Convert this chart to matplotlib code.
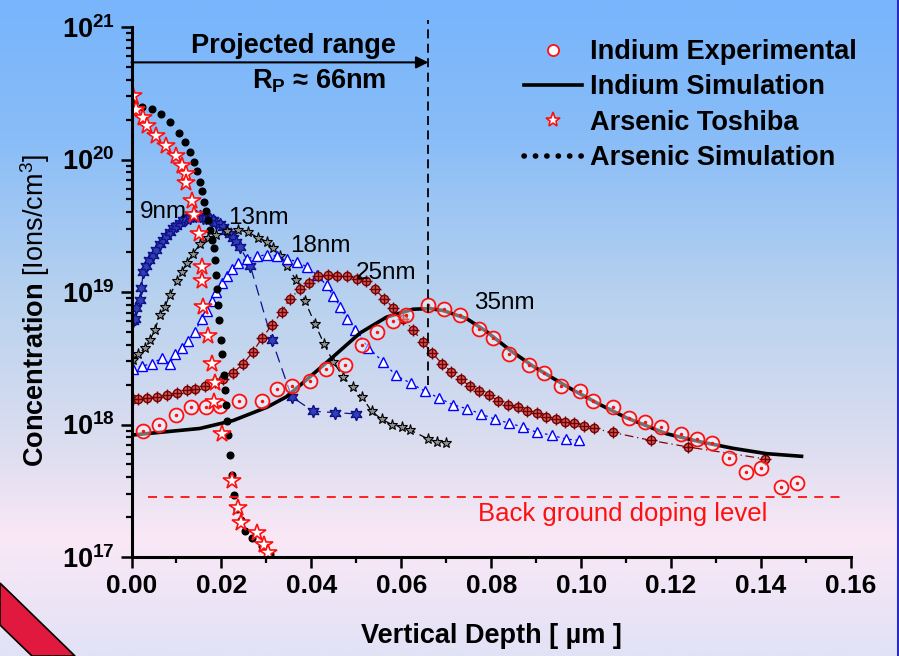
import numpy as np
import matplotlib
matplotlib.use("Agg")
import matplotlib.pyplot as plt
from matplotlib.lines import Line2D
from matplotlib.patches import Polygon

plt.rcParams['font.family'] = ['Liberation Sans', 'DejaVu Sans']
plt.rcParams['mathtext.fontset'] = 'custom'
plt.rcParams['mathtext.rm'] = 'Liberation Sans'
plt.rcParams['mathtext.bf'] = 'Liberation Sans:bold'
plt.rcParams['mathtext.it'] = 'Liberation Sans:italic'

# ---- data: depth in um, concentration as log10(cm^-3) ----
as_sim_x = [0.0006, 0.0023, 0.0046, 0.0066, 0.0086, 0.0106, 0.0119, 0.0130, 0.0139, 0.0146,
            0.0152, 0.0157, 0.0161, 0.0166, 0.0170, 0.0174, 0.0179, 0.0183, 0.0186, 0.0188,
            0.0190, 0.0192, 0.0195, 0.0199, 0.0201, 0.0206, 0.0208, 0.0210, 0.0212, 0.0215,
            0.0219, 0.0223, 0.0228, 0.0235, 0.0244, 0.0252, 0.0268, 0.0290, 0.0308]
as_sim_y = [20.43, 20.40, 20.38, 20.34, 20.28, 20.20, 20.13, 20.06, 19.98, 19.91,
            19.83, 19.76, 19.68, 19.61, 19.54, 19.47, 19.39, 19.33, 19.24, 19.13,
            19.02, 18.90, 18.79, 18.64, 18.53, 18.37, 18.26, 18.15, 18.03, 17.92,
            17.77, 17.62, 17.47, 17.36, 17.28, 17.20, 17.14, 17.08, 17.02]

as_tosh_x = [0.0004, 0.0010, 0.0025, 0.0034, 0.0054, 0.0076, 0.0098, 0.0112, 0.0121, 0.0121,
             0.0134, 0.0139, 0.0149, 0.0156, 0.0156, 0.0160, 0.0171, 0.0178, 0.0186, 0.0184,
             0.0201, 0.0223, 0.0237, 0.0244, 0.0280, 0.0294, 0.0303]
as_tosh_y = [20.48, 20.37, 20.31, 20.25, 20.18, 20.10, 20.03, 19.95, 19.89, 19.82,
             19.69, 19.58, 19.44, 19.19, 19.08, 18.89, 18.67, 18.46, 18.31, 18.17,
             17.93, 17.57, 17.37, 17.26, 17.18, 17.09, 17.03]

in_sim_x = [0.0, 0.0152, 0.0226, 0.0301, 0.0345, 0.0390, 0.0448, 0.0508, 0.0567, 0.0626,
            0.0664, 0.0693, 0.0745, 0.0790, 0.0842, 0.0893, 0.0937, 0.0982, 0.1042, 0.1101,
            0.1190, 0.1264, 0.1338, 0.1412, 0.1490]
in_sim_y = [17.92, 17.97, 18.03, 18.13, 18.21, 18.34, 18.51, 18.69, 18.81, 18.87,
            18.875, 18.86, 18.80, 18.70, 18.56, 18.44, 18.35, 18.26, 18.15, 18.05,
            17.93, 17.87, 17.82, 17.78, 17.76]

in_exp_x = [0.0025, 0.0062, 0.0099, 0.0132, 0.0166, 0.0197, 0.0240, 0.0290, 0.0323, 0.0358,
            0.0397, 0.0433, 0.0475, 0.0512, 0.0545, 0.0581, 0.0610, 0.0660, 0.0696, 0.0730,
            0.0773, 0.0803, 0.0839, 0.0884, 0.0918, 0.0955, 0.0998, 0.1026, 0.1070, 0.1106,
            0.1143, 0.1178, 0.1222, 0.1257, 0.1292, 0.1329, 0.1366, 0.1400, 0.1444, 0.1481]
in_exp_y = [17.95, 18.00, 18.07, 18.13, 18.13, 18.14, 18.18, 18.18, 18.27, 18.29,
            18.33, 18.42, 18.45, 18.60, 18.70, 18.78, 18.83, 18.90, 18.87, 18.83,
            18.72, 18.65, 18.53, 18.45, 18.39, 18.29, 18.25, 18.18, 18.13, 18.05,
            18.02, 17.98, 17.93, 17.89, 17.86, 17.75, 17.64, 17.67, 17.53, 17.56]

nm9_x = [0.0003, 0.0007, 0.0011, 0.0018, 0.0022, 0.0026, 0.0033, 0.0040, 0.0048, 0.0055,
         0.0063, 0.0070, 0.0077, 0.0085, 0.0092, 0.0100, 0.0107, 0.0115, 0.0122, 0.0129,
         0.0137, 0.0144, 0.0152, 0.0159, 0.0166, 0.0174, 0.0181, 0.0189, 0.0196, 0.0204,
         0.0211, 0.0218, 0.0226, 0.0233, 0.0241, 0.0264, 0.0312, 0.0356, 0.0404, 0.0453,
         0.0499]
nm9_y = [18.78, 18.80, 18.88, 18.94, 19.03, 19.15, 19.20, 19.24, 19.28, 19.32,
         19.36, 19.39, 19.42, 19.45, 19.48, 19.50, 19.52, 19.54, 19.55, 19.56,
         19.57, 19.57, 19.57, 19.56, 19.56, 19.55, 19.54, 19.52, 19.51, 19.49,
         19.46, 19.44, 19.41, 19.38, 19.34, 19.20, 18.64, 18.21, 18.10, 18.09,
         18.08]

nm13_x = [0.0003, 0.0015, 0.0030, 0.0041, 0.0052, 0.0063, 0.0074, 0.0086, 0.0101, 0.0112,
          0.0123, 0.0137, 0.0152, 0.0171, 0.0189, 0.0212, 0.0237, 0.0260, 0.0282, 0.0301,
          0.0315, 0.0330, 0.0345, 0.0366, 0.0386, 0.0408, 0.0428, 0.0449, 0.0471, 0.0492,
          0.0512, 0.0534, 0.0556, 0.0579, 0.0601, 0.0619, 0.0660, 0.0680, 0.0699]
nm13_y = [18.49, 18.53, 18.58, 18.64, 18.71, 18.83, 18.89, 18.98, 19.08, 19.15,
          19.22, 19.29, 19.36, 19.41, 19.43, 19.46, 19.47, 19.45, 19.41, 19.38,
          19.33, 19.27, 19.20, 19.09, 18.93, 18.76, 18.61, 18.47, 18.36, 18.28,
          18.21, 18.10, 18.04, 18.00, 17.98, 17.96, 17.89, 17.87, 17.86]

nm18_x = [0.0003, 0.0023, 0.0045, 0.0067, 0.0086, 0.0097, 0.0112, 0.0126, 0.0141, 0.0156,
          0.0167, 0.0178, 0.0189, 0.0201, 0.0212, 0.0223, 0.0237, 0.0256, 0.0278, 0.0301,
          0.0323, 0.0345, 0.0367, 0.0390, 0.0412, 0.0434, 0.0449, 0.0464, 0.0479, 0.0497,
          0.0527, 0.0560, 0.0588, 0.0622, 0.0653, 0.0684, 0.0714, 0.0745, 0.0777, 0.0808,
          0.0840, 0.0871, 0.0902, 0.0934, 0.0966, 0.0996]
nm18_y = [18.42, 18.44, 18.46, 18.50, 18.46, 18.53, 18.58, 18.63, 18.70, 18.80,
          18.86, 18.93, 19.00, 19.07, 19.12, 19.17, 19.22, 19.25, 19.27, 19.28,
          19.27, 19.25, 19.23, 19.19, 19.13, 19.05, 18.97, 18.89, 18.80, 18.71,
          18.58, 18.47, 18.37, 18.31, 18.25, 18.20, 18.15, 18.12, 18.08, 18.04,
          18.01, 17.98, 17.94, 17.92, 17.89, 17.88]

nm25_x = [0.0003, 0.0015, 0.0034, 0.0056, 0.0078, 0.0101, 0.0123, 0.0141, 0.0163, 0.0186,
          0.0204, 0.0226, 0.0249, 0.0270, 0.0290, 0.0312, 0.0334, 0.0352, 0.0375, 0.0395,
          0.0415, 0.0438, 0.0458, 0.0479, 0.0501, 0.0521, 0.0541, 0.0562, 0.0582, 0.0604,
          0.0627, 0.0648, 0.0669, 0.0690, 0.0711, 0.0732, 0.0753, 0.0773, 0.0795, 0.0816,
          0.0838, 0.0859, 0.0880, 0.0901, 0.0922, 0.0943, 0.0964, 0.0985, 0.1006, 0.1028,
          0.1070, 0.1155, 0.1238, 0.1409]
nm25_y = [18.19, 18.19, 18.20, 18.21, 18.22, 18.24, 18.26, 18.27, 18.29, 18.32,
          18.34, 18.39, 18.46, 18.55, 18.65, 18.75, 18.85, 18.95, 19.02, 19.07,
          19.12, 19.13, 19.12, 19.12, 19.10, 19.08, 19.02, 18.95, 18.88, 18.80,
          18.71, 18.62, 18.54, 18.46, 18.40, 18.34, 18.29, 18.25, 18.22, 18.18,
          18.15, 18.13, 18.10, 18.09, 18.06, 18.04, 18.02, 18.01, 17.99, 17.97,
          17.94, 17.88, 17.83, 17.74]

shift_labels = ['9nm', '13nm', '18nm', '25nm', '35nm']
shift_label_x = [0.0019, 0.0215, 0.0352, 0.0499, 0.0762]
shift_label_y = [19.60, 19.56, 19.35, 19.14, 18.92]

rp_depth = 0.066
background_level = 17.453


def c(v):
    return 10 ** np.asarray(v)


fig = plt.figure(figsize=(8.99, 6.56), dpi=100)

# background gradient + decoration
bg = fig.add_axes([0, 0, 1, 1], zorder=-10)
stops = [0.0, 0.2, 0.46, 0.69, 0.82, 1.0]
cols = np.array([[120, 181, 252], [135, 188, 248], [185, 210, 238],
                 [222, 222, 240], [250, 232, 246], [226, 226, 246]]) / 255.0
t = np.linspace(0, 1, 300)
grad = np.stack([np.interp(t, stops, cols[:, k]) for k in range(3)], axis=1)
bg.imshow(grad[:, None, :], aspect='auto', extent=[0, 1, 0, 1])
bg.add_patch(Polygon([[0, 1 - 583 / 656], [75 / 899, 0], [32 / 899, 0], [0, 1 - 625 / 656]],
                     closed=True, facecolor='#e2193f', edgecolor='black', lw=1.2))
bg.plot([897.5 / 899, 897.5 / 899], [0, 1], color='#2a2ac8', lw=2.2)
bg.set_xlim(0, 1)
bg.set_ylim(0, 1)
bg.axis('off')

ax = fig.add_axes([131.5 / 899, 1 - 557 / 656, (851 - 131.5) / 899, (557 - 27) / 656])
ax.patch.set_alpha(0)

# implant profiles at different shifts
ax.plot(nm9_x, c(nm9_y), color='#10108a', lw=0.9, ls=(0, (9, 5)),
        marker=(6, 1, 0), ms=9, mfc='#3040b0', mec='#10108a', mew=1.0)
ax.plot(nm13_x, c(nm13_y), color='black', lw=0.9, ls=(0, (6, 4)),
        marker='*', ms=8, mfc='#909090', mec='black', mew=0.8)
ax.plot(nm18_x, c(nm18_y), color='#0000ff', lw=0.9, ls=(0, (2, 3)),
        marker='^', ms=7, mfc='white', mec='#0000ff', mew=1.0)
ax.plot(nm25_x, c(nm25_y), color='#8b0000', lw=0.9, ls=(0, (7, 3, 1, 3)),
        marker='o', ms=6, mfc='#c86060', mec='#7a0000', mew=1.0)
ax.plot(nm25_x, c(nm25_y), ls='none', marker='+', ms=9, mec='#7a0000', mew=1.0)

# indium
ax.plot(in_sim_x, c(in_sim_y), color='black', lw=2.6)
ax.plot(in_exp_x, c(in_exp_y), ls='none', marker='o', ms=10,
        mfc=(1, 1, 1, 0.45), mec='#ff1010', mew=1.3)
ax.plot(in_exp_x, c(in_exp_y), ls='none', marker='o', ms=1.5, color='#ff1010')

# arsenic
ax.plot(as_sim_x, c(as_sim_y), ls='none', marker='o', ms=4.8, color='black')
ax.plot(as_tosh_x, c(as_tosh_y), ls='none', marker='*', ms=13,
        mfc='white', mec='#ff1010', mew=1.2)

# projected range marker
ax.plot([rp_depth, rp_depth], [c(18.3), c(21.05)], color='black', lw=1.3,
        ls=(0, (5, 3)), clip_on=False)
ax.annotate('', xy=(rp_depth, c(20.733)), xytext=(0.0, c(20.733)),
            arrowprops=dict(arrowstyle='-|>', color='black', lw=1.5,
                            mutation_scale=18, shrinkA=0, shrinkB=0))
ax.text(0.0361, c(20.86), 'Projected range', fontsize=19.5, fontweight='bold',
        ha='center', va='center')
ax.text(0.0417, c(20.59), r'R$_{\mathbf{P}}$ ≈ 66nm', fontsize=19.5, fontweight='bold',
        ha='center', va='center')

# background doping
ax.plot([0.0037, 0.1583], [c(background_level)] * 2, color='#ff1010', lw=1.3,
        ls=(0, (5, 4)))
ax.text(0.1093, c(17.325), 'Back ground doping level', color='#ff1010', fontsize=18.5,
        ha='center', va='center')

for lab, lx, ly in zip(shift_labels, shift_label_x, shift_label_y):
    ax.text(lx, c(ly), lab, fontsize=17.5, ha='left', va='center')

ax.set_yscale('log')
ax.set_xlim(0, 0.16)
ax.set_ylim(1e17, 1e21)
ax.set_xticks(np.arange(0, 0.161, 0.02))
ax.set_xticklabels(['%.2f' % v for v in np.arange(0, 0.161, 0.02)],
                   fontsize=19, fontweight='bold')
ax.set_xticks(np.arange(0.01, 0.16, 0.02), minor=True)
ax.set_yticks([1e17, 1e18, 1e19, 1e20, 1e21])
ax.set_yticklabels([r'$\mathbf{10^{%d}}$' % k for k in range(17, 22)], fontsize=19.5)
ax.yaxis.set_minor_locator(matplotlib.ticker.LogLocator(base=10, subs=np.arange(2, 10)))
ax.yaxis.set_minor_formatter(matplotlib.ticker.NullFormatter())
ax.tick_params(axis='both', which='major', direction='out', length=8, width=1.8, pad=4)
ax.tick_params(axis='both', which='minor', direction='out', length=4.5, width=1.6)
for s in ['top', 'right']:
    ax.spines[s].set_visible(False)
for s in ['left', 'bottom']:
    ax.spines[s].set_linewidth(2.2)

fig.text(491 / 899, 1 - 636 / 656, 'Vertical Depth [ µm ]', fontsize=19.5,
         fontweight='bold', ha='center', va='center')
fig.text(35 / 899, 1 - 311 / 656, r'$\mathbf{Concentration}$ [Ions/cm$^{3}$]',
         fontsize=19.5, rotation=90, ha='center', va='center')

handles = [
    Line2D([], [], ls='none', marker='o', ms=8, mfc='white', mec='#ff1010', mew=1.3),
    Line2D([], [], color='black', lw=2.6),
    Line2D([], [], ls='none', marker='*', ms=11, mfc='white', mec='#ff1010', mew=1.2),
    Line2D([], [], color='black', lw=4, ls=(0, (0.05, 2.0)), dash_capstyle='round'),
]
labels = ['Indium Experimental', 'Indium Simulation', 'Arsenic Toshiba', 'Arsenic Simulation']
leg = fig.legend(handles, labels, loc='upper left', bbox_to_anchor=(524 / 899, 1 - 39 / 656),
                 frameon=False, prop={'weight': 'bold', 'size': 19.5}, handlelength=2.15,
                 handletextpad=0.3, labelspacing=0.35, borderpad=0, borderaxespad=0)

fig.savefig('out.png', dpi=100)
